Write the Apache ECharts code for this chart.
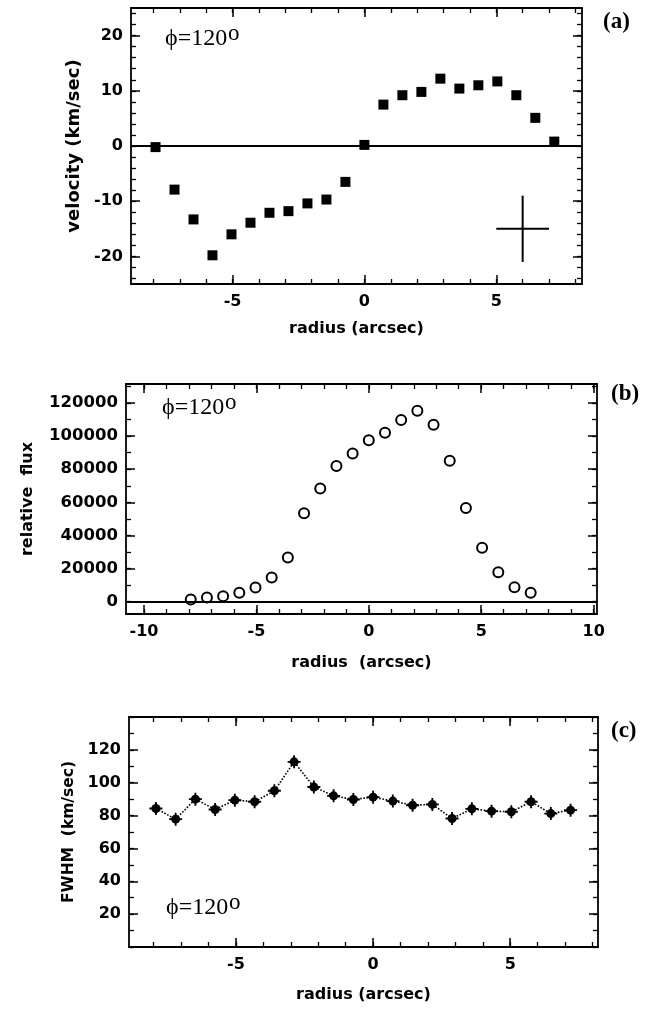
<!DOCTYPE html>
<html>
<head>
<meta charset="utf-8">
<title>rotation curve, flux and FWHM at phi=120</title>
<script src="https://cdn.jsdelivr.net/npm/echarts@6/dist/echarts.min.js"></script>
<style>
  html, body { margin: 0; padding: 0; background: #fff; }
  #main { width: 653px; height: 1011px; }
</style>
</head>
<body>
<div id="main"></div>
<script>
// positions along the slit (arcsec), shared by all three panels
var radius = [-7.92, -7.2, -6.48, -5.76, -5.04, -4.32, -3.6, -2.88, -2.16, -1.44, -0.72,
              0, 0.72, 1.44, 2.16, 2.88, 3.6, 4.32, 5.04, 5.76, 6.48, 7.2];
// (a) velocity, km/sec
var velocity = [-0.2, -7.9, -13.3, -19.8, -16.0, -13.9, -12.1, -11.8, -10.4, -9.7, -6.5,
                0.2, 7.5, 9.2, 9.8, 12.2, 10.4, 11.0, 11.7, 9.2, 5.1, 0.8];
// typical error: [x, y, half width (arcsec), half height (km/sec)]
var errBar = [[6, -15, 1, 6]];
// (b) relative flux
var flux = [1300, 2500, 3300, 5300, 8500, 14500, 26600, 53400, 68400, 82000, 89500,
            97500, 102000, 109700, 115400, 106900, 85100, 56600, 32600, 17700, 8700, 5300];
// (c) FWHM, km/sec
var fwhm = [84.3, 77.8, 90.0, 83.7, 89.4, 88.4, 95.1, 112.7, 97.4, 92.0, 89.8,
            91.2, 88.8, 86.3, 86.8, 78.2, 84.1, 82.7, 82.3, 88.4, 81.2, 83.3];

// tick labels
var xLabelsA = [-5, 0, 5];
var yLabelsA = [-20, -10, 0, 10, 20];
var xLabelsB = [-10, -5, 0, 5, 10];
var yLabelsB = [0, 20000, 40000, 60000, 80000, 100000, 120000];
var xLabelsC = [-5, 0, 5];
var yLabelsC = [20, 40, 60, 80, 100, 120];

var phiText = 'ϕ=120';
var panelNames = ['(a)', '(b)', '(c)'];

function steps(lo, hi, d) {
  var out = [];
  for (var v = Math.ceil(lo / d) * d; v <= hi + 1e-9; v += d) out.push(Math.round(v * 1000) / 1000);
  return out;
}

var sansFont = 'DejaVu Sans';

// 4 axes per side pair: main side (line, major ticks, labels), main side minor ticks,
// opposite side major ticks, opposite side minor ticks
function boxAxes(g, sides, lo, hi, major, minor, labels, name, nameGap, nameSize, isY) {
  var list = [];
  sides.forEach(function (side, i) {
    list.push({
      type: 'value', gridIndex: g, position: side, min: lo, max: hi,
      splitLine: { show: false },
      axisLine: { show: true, onZero: false, lineStyle: { color: '#000', width: 1.8 } },
      axisTick: { show: true, inside: true, length: 9, customValues: major,
                  lineStyle: { color: '#000', width: 1.5 } },
      axisLabel: i === 0 ? {
        show: true, customValues: labels, margin: isY ? 8 : 10,
        fontFamily: sansFont, fontWeight: 'bold', fontSize: isY && g === 1 ? 16.5 : 16, color: '#000',
        formatter: function (v) { return String(v); }
      } : { show: false },
      name: i === 0 ? name : '',
      nameLocation: 'middle',
      nameGap: nameGap,
      nameRotate: isY ? 90 : 0,
      nameTextStyle: { fontFamily: sansFont, fontWeight: 'bold', fontSize: nameSize, color: '#000' }
    });
    list.push({
      type: 'value', gridIndex: g, position: side, min: lo, max: hi,
      splitLine: { show: false },
      axisLine: { show: false, onZero: false },
      axisTick: { show: true, inside: true, length: 5, customValues: minor,
                  lineStyle: { color: '#000', width: 1.3 } },
      axisLabel: { show: false }
    });
  });
  return list;
}

var xAxes = [].concat(
  boxAxes(0, ['bottom', 'top'], -8.85, 8.25, xLabelsA, steps(-8.85, 8.25, 1), xLabelsA, 'radius (arcsec)', 37, 16, false),
  boxAxes(1, ['bottom', 'top'], -10.8, 10.15, xLabelsB, steps(-10.8, 10.15, 1), xLabelsB, 'radius  (arcsec)', 41, 16, false),
  boxAxes(2, ['bottom', 'top'], -8.9, 8.2, xLabelsC, steps(-8.9, 8.2, 1), xLabelsC, 'radius (arcsec)', 40, 16, false)
);
var yAxes = [].concat(
  boxAxes(0, ['left', 'right'], -25, 25, yLabelsA, steps(-25, 25, 2), yLabelsA, 'velocity (km/sec)', 45, 18, true),
  boxAxes(1, ['left', 'right'], -7500, 131500, yLabelsB, steps(-7500, 131500, 10000), yLabelsB, 'relative  flux', 90, 16, true),
  boxAxes(2, ['left', 'right'], 0, 140, yLabelsC, steps(0, 140, 10), yLabelsC, 'FWHM  (km/sec)', 52, 15.5, true)
);

function pairs(xs, ys) {
  return xs.map(function (x, i) { return [x, ys[i]]; });
}

var zeroLine = {
  silent: true, symbol: 'none', label: { show: false },
  lineStyle: { color: '#000', width: 2, type: 'solid', opacity: 1 },
  data: [{ yAxis: 0 }]
};

var serifFont = '"Liberation Serif", "DejaVu Serif", serif';
// "phi=120" followed by a raised lower-case "o" used as the degree mark
function phiLabel(x, y) {
  return [
    { type: 'text', x: x, y: y, silent: true,
      style: { text: phiText, fontFamily: serifFont, fontSize: 24, fill: '#000' } },
    { type: 'text', x: x + 63, y: y - 5, silent: true,
      style: { text: 'o', fontFamily: serifFont, fontSize: 23, fill: '#000' } }
  ];
}
function panelLabel(txt, x, y) {
  return {
    type: 'text', x: x, y: y, silent: true,
    style: { text: txt, fontFamily: serifFont, fontWeight: 'bold', fontSize: 23, fill: '#000' }
  };
}

var chart = echarts.init(document.getElementById('main'), null, { renderer: 'canvas' });
var option = {
  backgroundColor: '#fff',
  animation: false,
  grid: [
    { left: 131, top: 8, width: 451, height: 276 },
    { left: 126, top: 384, width: 471, height: 230 },
    { left: 129, top: 717, width: 469, height: 230 }
  ],
  xAxis: xAxes,
  yAxis: yAxes,
  graphic: [].concat(
    phiLabel(165, 27), phiLabel(162, 396), phiLabel(166, 896),
    [panelLabel(panelNames[0], 603, 11), panelLabel(panelNames[1], 611, 383), panelLabel(panelNames[2], 611, 720)]
  ),
  series: [
    {
      name: 'velocity', type: 'scatter', xAxisIndex: 0, yAxisIndex: 0,
      symbol: 'rect', symbolSize: 10,
      itemStyle: { color: '#000', opacity: 1 },
      data: pairs(radius, velocity),
      markLine: zeroLine
    },
    {
      name: 'error', type: 'custom', xAxisIndex: 0, yAxisIndex: 0,
      data: errBar,
      renderItem: function (params, api) {
        var x = api.value(0), y = api.value(1), dx = api.value(2), dy = api.value(3);
        var l = api.coord([x - dx, y]), r = api.coord([x + dx, y]);
        var t = api.coord([x, y + dy]), b = api.coord([x, y - dy]);
        return {
          type: 'group',
          children: [
            { type: 'line', shape: { x1: l[0], y1: l[1], x2: r[0], y2: r[1] }, style: { stroke: '#000', lineWidth: 2 } },
            { type: 'line', shape: { x1: t[0], y1: t[1], x2: b[0], y2: b[1] }, style: { stroke: '#000', lineWidth: 2 } }
          ]
        };
      }
    },
    {
      name: 'flux', type: 'scatter', xAxisIndex: 4, yAxisIndex: 4,
      symbol: 'emptyCircle', symbolSize: 10,
      itemStyle: { color: '#000', borderColor: '#000', borderWidth: 2.3, opacity: 1 },
      data: pairs(radius, flux),
      markLine: zeroLine
    },
    {
      name: 'fwhm', type: 'line', xAxisIndex: 8, yAxisIndex: 8,
      symbol: 'circle', symbolSize: 9, showSymbol: true,
      itemStyle: { color: '#000', opacity: 1 },
      lineStyle: { color: '#000', width: 1.6, type: 'dotted' },
      data: pairs(radius, fwhm)
    },
    {
      name: 'fwhm err', type: 'scatter', xAxisIndex: 8, yAxisIndex: 8,
      symbol: 'path://M0,6H14V8H0Z M6,0H8V14H6Z', symbolSize: 13,
      itemStyle: { color: '#000', opacity: 1 },
      data: pairs(radius, fwhm)
    }
  ]
};
chart.setOption(option);
</script>
</body>
</html>
